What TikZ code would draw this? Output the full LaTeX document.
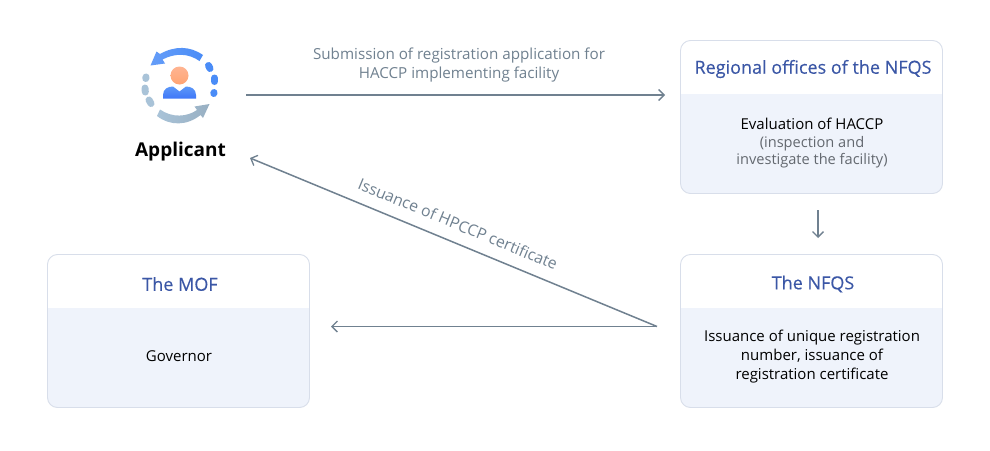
\documentclass[tikz,border=0pt]{standalone}
\usepackage{fontspec}
\setmainfont{Open Sans}
\newfontfamily\medfont[FakeBold=0.3]{Open Sans}
\usetikzlibrary{arrows.meta}
\definecolor{edgec}{HTML}{D8DEEA}
\definecolor{bodyc}{HTML}{EFF3FB}
\definecolor{headc}{HTML}{3B57A6}
\definecolor{linec}{HTML}{708190}
\definecolor{greyc}{HTML}{63686F}
\definecolor{iconblue}{HTML}{4A8CF7}
\definecolor{iconlight}{HTML}{A9C3D8}
\tikzset{
 x=1pt,y=-1pt,
 conn/.style={draw=linec,line width=1.5pt,-{Straight Barb[length=5.5pt,width=11pt,line width=1.3pt]}},
 headtext/.style={text=headc,font=\medfont\fontsize{18}{20}\selectfont,anchor=center,inner sep=0pt},
 bodytext/.style={text=black,font=\fontsize{15}{18}\selectfont,align=center,anchor=center,inner sep=0pt},
 smalltext/.style={text=greyc,font=\fontsize{14.6}{18}\selectfont,align=center,anchor=center,inner sep=0pt},
 labeltext/.style={text=linec,font=\fontsize{15.2}{19}\selectfont,align=center,anchor=center,inner sep=0pt},
 dotb/.style={line width=7pt,line cap=round,draw=iconblue},
 dotl/.style={line width=7pt,line cap=round,draw=iconlight},
}
\newcommand{\cardbox}[6]{% name x0 y0 x1 ysplit y1
 \begin{scope}
  \clip[rounded corners=10pt] (#2,#3) rectangle (#4,#6);
  \fill[white] (#2,#3) rectangle (#4,#5);
  \fill[bodyc] (#2,#5) rectangle (#4,#6);
 \end{scope}
 \draw[edgec,line width=0.9pt,rounded corners=10pt] (#2,#3) rectangle (#4,#6);
 \coordinate (#1) at ({(#2+#4)/2},{(#3+#6)/2});
}
\begin{document}
\begin{tikzpicture}
\useasboundingbox (0,0) rectangle (990,450);
\fill[white] (0,0) rectangle (990,450);
\cardbox{regional}{680.5}{40.5}{942.5}{94}{193.5}
\cardbox{nfqs}{680.5}{254.5}{942.5}{308}{407.5}
\cardbox{mof}{47.5}{254.5}{309.5}{308}{407.5}
\node[headtext] (regionalhead) at (813,69) {Regional offices of the NFQS};
\node[bodytext] (regionalbody) at (812,124) {Evaluation of HACCP};
\node[smalltext] (regionalsub) at (812,152) {(inspection and\\[-0.5pt]investigate the facility)};
\node[headtext] (nfqshead) at (813,284) {The NFQS};
\node[bodytext] (nfqsbody) at (812,357) {Issuance of unique registration\\[1pt]number, issuance of\\[1pt]registration certificate};
\node[headtext] (mofhead) at (180,284) {The MOF};
\node[bodytext] (mofbody) at (179,356) {Governor};
% icon
\shade[left color=iconblue!85!white,right color=iconblue]
 (203,55) .. controls (190,46) and (175,45.5) .. (160,54) -- (156.5,51.5) -- (150.5,65.5) -- (165,63.5) -- (162.5,59.5) .. controls (175,53) and (188,53) .. (199.5,61) -- cycle;
\shade[left color=iconlight,right color=iconlight!90!black]
 (160,109.5) .. controls (172,118) and (187,117) .. (197,110) -- (194.5,106.5) -- (209.5,104) -- (203,118) -- (200.5,115) .. controls (187,126) and (170,126) .. (157,116) -- cycle;
\draw[dotb] (208.5,65.5) -- (210,68.5);
\draw[dotb] (214.5,78) -- (214.5,81.5);
\draw[dotb] (214,92.5) -- (213.8,93.5);
\draw[dotl] (146,77) -- (145.8,78.5);
\draw[dotl] (145,88) -- (145.3,92);
\draw[dotl] (149,100) -- (151,103.5);
\shade[top color=iconblue!90!white,bottom color=iconblue!85!blue]
 (163,98.5) -- (163,95) .. controls (163,89) and (168,86.5) .. (173,86.5) -- (179.5,91.5) -- (186,86.5) .. controls (191,86.5) and (196,89) .. (196,95) -- (196,98.5) -- cycle;
\shade[top color=orange!30!pink!90!white,bottom color=orange!70!red!55!white] (179.5,75.5) circle (9);
\node[text=black,font=\fontsize{19}{24}\selectfont\bfseries,inner sep=0pt] (applicant) at (180.5,151.5) {Applicant};
% connectors
\coordinate (subfrom) at (246,95);
\coordinate (subto) at (665,95);
\coordinate (origin) at (657,326.5);
\coordinate (diagto) at (250,158);
\coordinate (mofto) at (331,326.5);
\coordinate (downfrom) at (818,210);
\coordinate (downto) at (818,238);
\draw[conn] (subfrom) -- (subto);
\draw[conn] (origin) -- (diagto);
\draw[conn] (origin) -- (mofto);
\draw[conn] (downfrom) -- (downto);
\node[labeltext] (sublabel) at (459,65.5) {Submission of registration application for\\HACCP implementing facility};
\node[labeltext,rotate=-22.4,font=\fontsize{15.8}{19}\selectfont] (diaglabel) at (458,224) {Issuance of HPCCP certificate};
\end{tikzpicture}
\end{document}
